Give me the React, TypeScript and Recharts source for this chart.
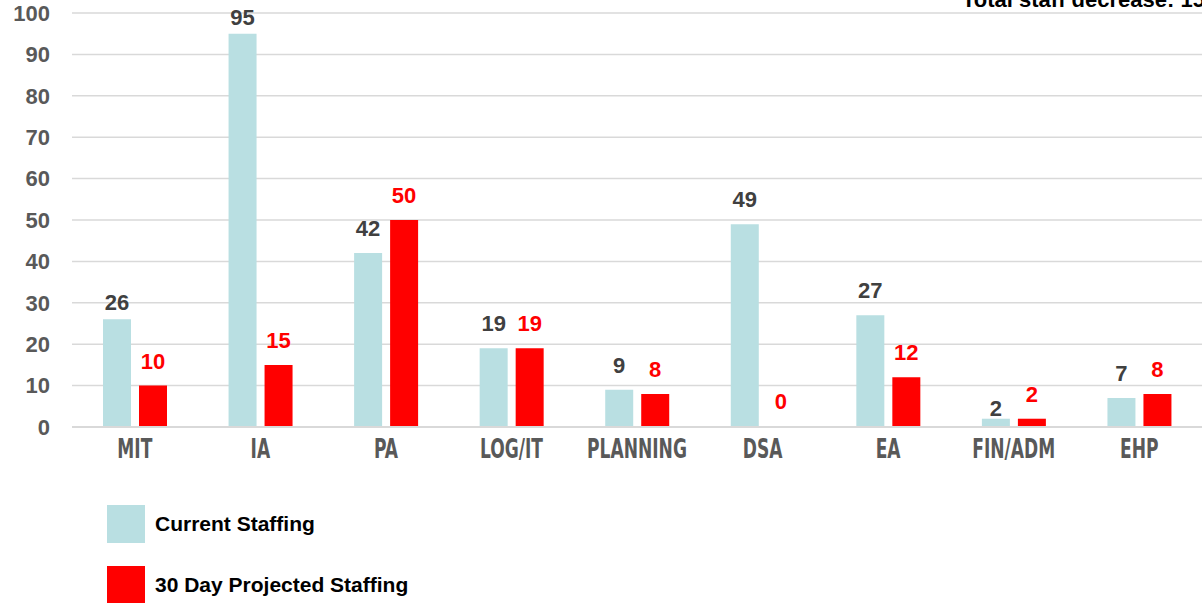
import { BarChart, Bar, XAxis, YAxis, CartesianGrid, LabelList, Cell } from 'recharts';

const categories = ['MIT', 'IA', 'PA', 'LOG/IT', 'PLANNING', 'DSA', 'EA', 'FIN/ADM', 'EHP'];
const currentStaffing = [26, 95, 42, 19, 9, 49, 27, 2, 7];
const projectedStaffing = [10, 15, 50, 19, 8, 0, 12, 2, 8];
const yTicks = [0, 10, 20, 30, 40, 50, 60, 70, 80, 90, 100];

const data = categories.map((name, i) => ({
  name,
  current: currentStaffing[i],
  projected: projectedStaffing[i],
}));

const totalDecrease =
  currentStaffing.reduce((a, b) => a + b, 0) - projectedStaffing.reduce((a, b) => a + b, 0);

const BLUE = '#b9dfe2';
const RED = '#ff0000';
const ARIAL = '"Liberation Sans", Arial, sans-serif';

// a few labels sit closer to their bar in the original
const currentLift: Record<string, number> = { MIT: 9, IA: 9, 'FIN/ADM': 3 };

function XTick({ x, y, payload }: any) {
  return (
    <g transform={`translate(${x},${y})`}>
      <text
        transform="scale(0.73,1)"
        x={0}
        y={0}
        dy={23}
        textAnchor="middle"
        fill="#595959"
        fontSize={26}
        fontWeight="bold"
        fontFamily='"Liberation Sans Narrow", "DejaVu Sans Condensed", sans-serif'
      >
        {payload.value}
      </text>
    </g>
  );
}

function makeLabel(color: string, lift?: Record<string, number>) {
  return (props: any) => {
    const { x, y, width, value, index } = props;
    const extra = lift ? lift[categories[index]] ?? 17 : 17;
    return (
      <text
        x={x + width / 2}
        y={y - extra}
        textAnchor="middle"
        fill={color}
        fontSize={22}
        fontWeight="bold"
        fontFamily={ARIAL}
      >
        {String(value)}
      </text>
    );
  };
}

function LegendRow({ color, label }: { color: string; label: string }) {
  return (
    <div style={{ display: 'flex', alignItems: 'center', height: 38, marginBottom: 23 }}>
      <div style={{ width: 38, height: 38, background: color }} />
      <span style={{ marginLeft: 10, fontSize: 21, fontWeight: 'bold', color: '#000', fontFamily: ARIAL }}>
        {label}
      </span>
    </div>
  );
}

export default function App() {
  return (
    <div style={{ position: 'absolute', left: 0, top: 0, width: 1202, height: 603, background: '#fff', overflow: 'hidden' }}>
      <BarChart
        width={1202}
        height={480}
        data={data}
        margin={{ top: 13, right: 0, left: 0, bottom: 0 }}
        barSize={28}
        barGap={8}
      >
        <CartesianGrid vertical={false} stroke="#d9d9d9" strokeWidth={1.5} />
        <XAxis
          dataKey="name"
          axisLine={{ stroke: '#d9d9d9', strokeWidth: 2 }}
          tickLine={false}
          tick={<XTick />}
          height={53}
          interval={0}
        />
        <YAxis
          domain={[0, 100]}
          ticks={yTicks}
          axisLine={false}
          tickLine={false}
          tickSize={0}
          tickMargin={22}
          width={72}
          tick={{ fill: '#595959', fontSize: 22, fontWeight: 'bold', fontFamily: ARIAL }}
        />
        <Bar dataKey="current" fill={BLUE} isAnimationActive={false}>
          <LabelList dataKey="current" content={makeLabel('#404040', currentLift)} />
        </Bar>
        <Bar dataKey="projected" fill={RED} minPointSize={1} isAnimationActive={false}>
          {projectedStaffing.map((v, i) => (
            <Cell key={i} fill={v === 0 ? 'transparent' : RED} />
          ))}
          <LabelList dataKey="projected" content={makeLabel(RED)} />
        </Bar>
      </BarChart>
      <svg style={{ position: 'absolute', left: 0, top: 0 }} width={1202} height={20}>
        <text x={962} y={7} fontSize={22} fontWeight="bold" fill="#000" fontFamily={ARIAL}>
          Total staff decrease: {totalDecrease}
        </text>
      </svg>
      <div style={{ position: 'absolute', left: 107, top: 505 }}>
        <LegendRow color={BLUE} label="Current Staffing" />
        <LegendRow color={RED} label="30 Day Projected Staffing" />
      </div>
    </div>
  );
}
